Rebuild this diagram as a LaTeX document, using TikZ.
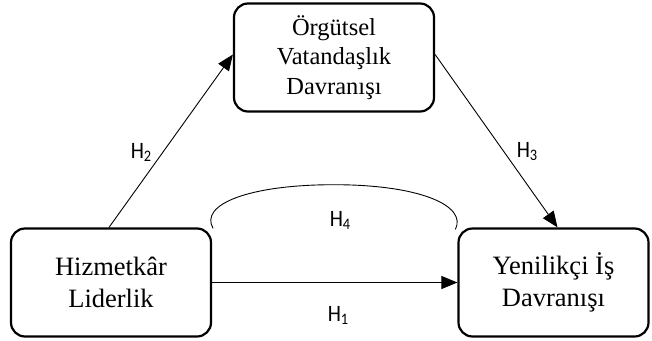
\documentclass[tikz,border=0pt]{standalone}
\usepackage{fontspec}
\setmainfont{Liberation Serif}
\newfontfamily\labfont{Carlito}[FakeStretch=0.9]
\usetikzlibrary{arrows.meta}
\newcommand\hsub[1]{{\fontsize{16}{16}\selectfont\raisebox{-3pt}{#1}}}
\begin{document}
\begin{tikzpicture}[x=1pt,y=-1pt,
  box/.style={draw, line width=2.2pt, rounded corners=14pt, align=center, inner sep=0pt,
    minimum width=200pt, minimum height=108pt, font=\fontsize{26.5}{32}\selectfont},
  conn/.style={line width=0.9pt, -{Triangle[length=16pt,width=13pt]}},
  lab/.style={font=\labfont\fontsize{23.5}{25}\selectfont}]
\useasboundingbox (0,0) rectangle (652,340);
\node[box, font=\fontsize{24.5}{29.5}\selectfont] (T) at (334,57.5) {Örgütsel\\Vatandaşlık\\Davranışı};
\node[box] (L) at (111,282.5) {Hizmetkâr\\Liderlik};
\node[box, minimum width=190pt] (R) at (553.5,282.5) {Yenilikçi İş\\Davranışı};
\draw[conn] (L.east) -- (R.west);
\draw[conn] ([xshift=-2pt]L.north) -- ([yshift=3pt]T.west);
\draw[conn] ([yshift=3pt]T.east) -- ([xshift=4pt]R.north);
\coordinate (a1) at ([xshift=1pt,yshift=-1pt]L.north east);
\coordinate (a2) at ([xshift=-2pt,yshift=-2pt]R.north west);
\draw[line width=0.9pt] (a1) .. controls +(-14,-24) and +(-85,0) .. (334,184.7)
  .. controls +(85,0) and +(12,-24) .. (a2);
\node[lab] (h2) at (141,152) {H\hsub{2}};
\node[lab] (h3) at (527,152) {H\hsub{3}};
\node[lab] (h4) at (340,220) {H\hsub{4}};
\node[lab] (h1) at (338,315) {H\hsub{1}};
\end{tikzpicture}
\end{document}
